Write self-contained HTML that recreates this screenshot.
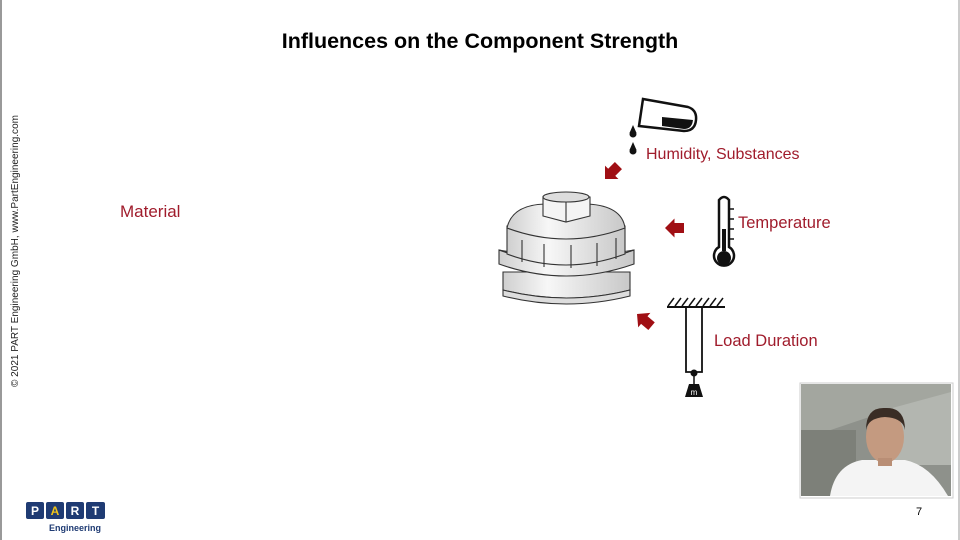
<!DOCTYPE html>
<html><head><meta charset="utf-8"><style>
html,body{margin:0;padding:0;background:#fff;}
svg{display:block;font-family:"Liberation Sans",sans-serif;}
</style></head><body>
<svg width="960" height="540" viewBox="0 0 960 540" xmlns="http://www.w3.org/2000/svg">
<defs>
<linearGradient id="g1" x1="0" x2="1"><stop offset="0" stop-color="#cfcfcf"/><stop offset="0.35" stop-color="#f7f7f7"/><stop offset="1" stop-color="#c8c8c8"/></linearGradient>
</defs>
<rect width="960" height="540" fill="#fff"/>
<line x1="1" y1="0" x2="1" y2="540" stroke="#999" stroke-width="2"/>
<line x1="959" y1="0" x2="959" y2="540" stroke="#ccc" stroke-width="2"/>
<text x="480" y="48" text-anchor="middle" font-size="21.5" font-weight="bold" fill="#000">Influences on the Component Strength</text>
<text transform="translate(18,387) rotate(-90)" font-size="10" fill="#222" textLength="272" lengthAdjust="spacingAndGlyphs">© 2021 PART Engineering GmbH, www.PartEngineering.com</text>
<text x="120" y="217" font-size="17" fill="#a01c2c">Material</text>

<!-- component -->
<g stroke="#333" stroke-width="1.1">
<path d="M503 272 L503 290 Q566 306 630 290 L630 272 Z" fill="url(#g1)"/>
<path d="M503 290 Q566 306 630 290 L630 296 Q566 312 503 296 Z" fill="#ddd"/>
<path d="M499 250 L499 264 Q566 288 634 264 L634 250 Q566 274 499 250 Z" fill="url(#g1)"/>
<path d="M499 250 Q566 274 634 250 Q566 262 499 250 Z" fill="#eee"/>
<path d="M507 226 L507 254 Q566 276 625 254 L625 226 Z" fill="url(#g1)"/>
<line x1="522" y1="240" x2="522" y2="262"/><line x1="544" y1="244" x2="544" y2="267"/><line x1="571" y1="245" x2="571" y2="268"/><line x1="597" y1="243" x2="597" y2="266"/><line x1="616" y1="238" x2="616" y2="259"/>
<path d="M507 228 Q512 205 545 204 L588 204 Q622 206 625 228 Q566 250 507 228 Z" fill="url(#g1)"/>
<path d="M543 197 L590 197 L590 216 L566 222 L543 216 Z" fill="#f4f4f4"/>
<ellipse cx="566" cy="197" rx="23" ry="5" fill="#ddd"/>
<line x1="566" y1="202" x2="566" y2="222"/>
</g>

<!-- test tube -->
<g>
<path d="M643 99 L688 107 Q697 110 696 120 Q695 131 684 131 L639 126 Z" fill="#fff" stroke="#111" stroke-width="2.5"/>
<path d="M662 117 L693 120 Q692 129 684 129 L662 126 Z" fill="#111"/>
<circle cx="633" cy="134" r="3.5" fill="#111"/><path d="M633 125 L629.5 133 L636.5 133 Z" fill="#111"/>
<circle cx="633" cy="151" r="3.5" fill="#111"/><path d="M633 142 L629.5 150 L636.5 150 Z" fill="#111"/>
</g>
<text x="646" y="159" font-size="16" fill="#a01c2c">Humidity, Substances</text>

<!-- thermometer -->
<g>
<path d="M719 200 Q724 194 729 200 L729 247 A10 10 0 1 1 719 247 Z" fill="#fff" stroke="#111" stroke-width="2.5"/>
<rect x="722" y="229" width="4" height="22" fill="#111"/>
<circle cx="724" cy="258" r="7" fill="#111"/>
<g stroke="#111" stroke-width="1.5"><line x1="729" y1="209" x2="734" y2="209"/><line x1="729" y1="219" x2="734" y2="219"/><line x1="729" y1="229" x2="734" y2="229"/><line x1="729" y1="239" x2="734" y2="239"/></g>
</g>
<text x="738" y="228" font-size="16.5" fill="#a01c2c">Temperature</text>

<!-- load -->
<g stroke="#111">
<line x1="667" y1="307" x2="725" y2="307" stroke-width="2"/>
<g stroke-width="1.5">
<line x1="668" y1="306" x2="674" y2="298"/><line x1="675" y1="306" x2="681" y2="298"/><line x1="682" y1="306" x2="688" y2="298"/><line x1="689" y1="306" x2="695" y2="298"/><line x1="696" y1="306" x2="702" y2="298"/><line x1="703" y1="306" x2="709" y2="298"/><line x1="710" y1="306" x2="716" y2="298"/><line x1="717" y1="306" x2="723" y2="298"/>
</g>
<path d="M686 307 L686 372 L693 372 M702 307 L702 372 L695 372" fill="none" stroke-width="1.8"/>
<line x1="694" y1="374" x2="694" y2="384" stroke-width="1.5"/>
</g>
<circle cx="694" cy="373" r="3.5" fill="#111"/>
<path d="M689 384 L699 384 L703 397 L685 397 Z" fill="#111"/>
<text x="694" y="395" font-size="8" fill="#fff" text-anchor="middle">m</text>
<text x="714" y="346" font-size="16.5" fill="#a01c2c">Load Duration</text>

<!-- red arrows -->
<g fill="#a00f14">
<path d="M0 0 L9.5 -9.5 L9.5 -5 L19 -5 L19 5 L9.5 5 L9.5 9.5 Z" transform="translate(665 228)"/>
<path d="M0 0 L9.5 -9.5 L9.5 -5 L19 -5 L19 5 L9.5 5 L9.5 9.5 Z" transform="translate(605 179) rotate(-45)"/>
<path d="M0 0 L9.5 -9.5 L9.5 -5 L19 -5 L19 5 L9.5 5 L9.5 9.5 Z" transform="translate(637 314) rotate(40)"/>
</g>

<!-- video -->
<rect x="800" y="383" width="153" height="115" fill="#fff" stroke="#ccc"/>
<rect x="801" y="384" width="150" height="112" fill="#8e918b"/>
<polygon points="801,384 951,384 951,395 890,410 801,440" fill="#a3a69f"/>
<polygon points="885,410 951,392 951,465 885,465" fill="#b3b6b0"/>
<rect x="801" y="430" width="55" height="66" fill="#7d8079"/>
<path d="M830 496 Q835 465 862 460 L905 460 Q930 465 948 496 Z" fill="#f4f4f4"/>
<ellipse cx="885" cy="437" rx="19" ry="26" fill="#c49a80"/>
<path d="M866 430 Q866 407 885 408 Q905 407 905 430 Q903 418 885 417 Q868 418 866 430 Z" fill="#3a2d25"/>
<rect x="878" y="458" width="14" height="8" fill="#b98e75"/>

<!-- logo -->
<g font-weight="bold" font-size="12" text-anchor="middle">
<rect x="26" y="502" width="18" height="17" rx="2" fill="#1f3b73"/><text x="35" y="515" fill="#fff">P</text>
<rect x="46" y="502" width="18" height="17" rx="2" fill="#1f3b73"/><text x="55" y="515" fill="#f0c419">A</text>
<rect x="66" y="502" width="18" height="17" rx="2" fill="#1f3b73"/><text x="75" y="515" fill="#fff">R</text>
<rect x="86" y="502" width="19" height="17" rx="2" fill="#1f3b73"/><text x="95.5" y="515" fill="#fff">T</text>
</g>
<text x="75" y="531" font-size="9" font-weight="bold" fill="#1f3b73" text-anchor="middle">Engineering</text>
<text x="919" y="515" font-size="11" fill="#000" text-anchor="middle">7</text>
</svg>
</body></html>
